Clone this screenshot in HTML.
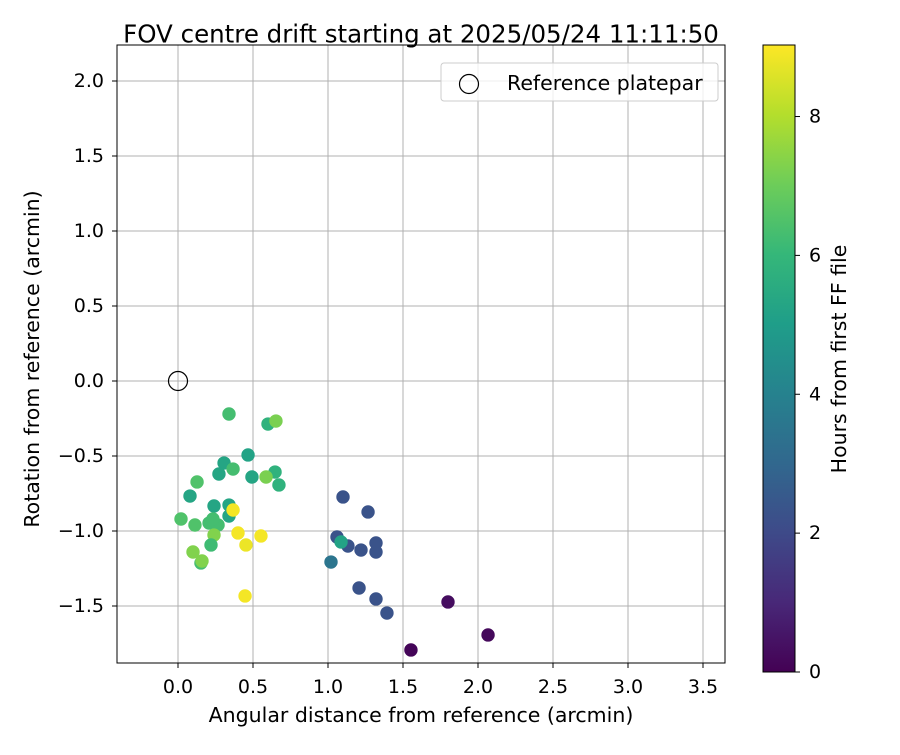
<!DOCTYPE html>
<html><head><meta charset="utf-8"><style>
body{margin:0;background:#fff;}
svg{font-family:"DejaVu Sans","Liberation Sans",sans-serif;}
</style></head><body>
<svg id="chart" width="900" height="750" viewBox="0 0 900 750" xmlns="http://www.w3.org/2000/svg">
<defs><linearGradient id="vir" x1="0" y1="1" x2="0" y2="0"></linearGradient>
<clipPath id="clip"><rect x="117" y="45" width="608" height="618"/></clipPath></defs>
<text x="421" y="34" font-size="24.5" text-anchor="middle" dominant-baseline="central">FOV centre drift starting at 2025/05/24 11:11:50</text>
<g id="grid"></g>
<g id="points" clip-path="url(#clip)"></g>
<rect x="117" y="45" width="608" height="618" fill="none" stroke="#000" stroke-width="1"/>
<g id="ticks"></g>
<text x="421" y="715" font-size="20.5" text-anchor="middle" dominant-baseline="central">Angular distance from reference (arcmin)</text>
<text transform="translate(32,359) rotate(-90)" font-size="20.5" text-anchor="middle" dominant-baseline="central">Rotation from reference (arcmin)</text>
<g>
<rect x="441" y="63" width="277" height="38" rx="3" fill="#fff" fill-opacity="0.8" stroke="#ccc"/>
<circle cx="469" cy="84" r="9.5" fill="none" stroke="#000" stroke-width="1.2"/>
<text x="507" y="83" font-size="20.5" dominant-baseline="central">Reference platepar</text>
</g>
<g id="cbar"></g>
<text transform="translate(839,359) rotate(-90)" font-size="20.5" text-anchor="middle" dominant-baseline="central">Hours from first FF file</text>
</svg>
<script>
const xs=[1.553,1.80,2.067,1.10,1.267,1.06,1.133,1.22,1.32,1.32,1.207,1.32,1.393,1.02,1.087,
0.34,0.60,0.653,0.467,0.307,0.273,0.367,0.493,0.647,0.587,0.673,0.127,0.08,0.24,0.34,0.34,0.367,0.02,0.113,0.207,0.267,0.233,0.24,0.22,0.40,0.453,0.553,0.10,0.153,0.16,0.447];
const ys=[-1.793,-1.473,-1.693,-0.773,-0.873,-1.04,-1.10,-1.127,-1.08,-1.14,-1.38,-1.453,-1.547,-1.207,-1.073,
-0.22,-0.287,-0.267,-0.493,-0.547,-0.62,-0.587,-0.64,-0.607,-0.64,-0.693,-0.673,-0.767,-0.833,-0.827,-0.9,-0.86,-0.92,-0.96,-0.947,-0.96,-0.92,-1.027,-1.093,-1.013,-1.093,-1.033,-1.14,-1.213,-1.2,-1.433];
const hours=[0.1,0.3,0.2,2.3,2.3,2.3,2.3,2.3,2.3,2.3,2.3,2.3,2.3,3.5,5.2,
6.3,5.8,7.2,5.2,5.3,5.3,6.3,5.3,5.8,7.2,5.8,6.5,5.3,5.3,5.3,5.3,8.9,6.5,6.5,6.3,6.3,6.3,7.3,6.2,8.9,8.8,8.9,7.3,6.3,7.3,8.9];
const xTicks=[0,0.5,1,1.5,2,2.5,3,3.5];
const yTicks=[-1.5,-1,-0.5,0,0.5,1,1.5,2];
const cTicks=[0,2,4,6,8];
const X=v=>178+v*150, Y=v=>381-v*150;
const cMax=9.03, CY=v=>672-v*(627/cMax);
const vir=[[68,1,84],[72,40,120],[62,74,137],[49,104,142],[38,130,142],[31,158,137],[53,183,121],[109,205,89],[180,222,44],[253,231,37]];
function col(h){let t=Math.max(0,Math.min(1,h/cMax))*(vir.length-1);let i=Math.min(Math.floor(t),vir.length-2),f=t-i;
return 'rgb('+[0,1,2].map(k=>Math.round(vir[i][k]+(vir[i+1][k]-vir[i][k])*f)).join(',')+')';}
const NS='http://www.w3.org/2000/svg';
function mk(tag,attrs,parent,txt){const e=document.createElementNS(NS,tag);for(const k in attrs)e.setAttribute(k,attrs[k]);if(txt!==undefined)e.textContent=txt;parent.appendChild(e);return e;}
const grid=document.getElementById('grid'),ticks=document.getElementById('ticks');
xTicks.forEach(v=>{
const g=mk('line',{x1:X(v),x2:X(v),y1:45,y2:663,stroke:'#b0b0b0','stroke-width':1},grid);


mk('line',{x1:X(v),x2:X(v),y1:663,y2:668,stroke:'#000'},ticks);
const t=mk('text',{x:X(v),y:687,'font-size':19,'text-anchor':'middle','dominant-baseline':'central'},ticks,v.toFixed(1));


});
yTicks.forEach(v=>{
const g=mk('line',{x1:117,x2:725,y1:Y(v),y2:Y(v),stroke:'#b0b0b0','stroke-width':1},grid);


mk('line',{x1:112,x2:117,y1:Y(v),y2:Y(v),stroke:'#000'},ticks);
const t=mk('text',{x:104,y:Y(v),'font-size':19,'text-anchor':'end','dominant-baseline':'central'},ticks,(v<0?'\u2212':'')+Math.abs(v).toFixed(1));


});
const pts=document.getElementById('points');
xs.forEach((x,i)=>{
const c=mk('circle',{cx:X(x),cy:Y(ys[i]),r:6.7,fill:col(hours[i])},pts);


});
const ref=mk('circle',{cx:X(0),cy:Y(0),r:9.5,fill:'none',stroke:'#000','stroke-width':1.2},pts);


const grad=document.getElementById('vir');
vir.forEach((c,i)=>mk('stop',{offset:(i/(vir.length-1)),'stop-color':'rgb('+c.join(',')+')'},grad));
const cb=document.getElementById('cbar');
const r=mk('rect',{x:763,y:45,width:32,height:627,fill:'url(#vir)',stroke:'#000','stroke-width':1},cb);


cTicks.forEach(v=>{
mk('line',{x1:795,x2:800,y1:CY(v),y2:CY(v),stroke:'#000'},cb);
const t=mk('text',{x:809,y:CY(v),'font-size':19,'dominant-baseline':'central'},cb,String(v));


});
</script>
</body></html>
